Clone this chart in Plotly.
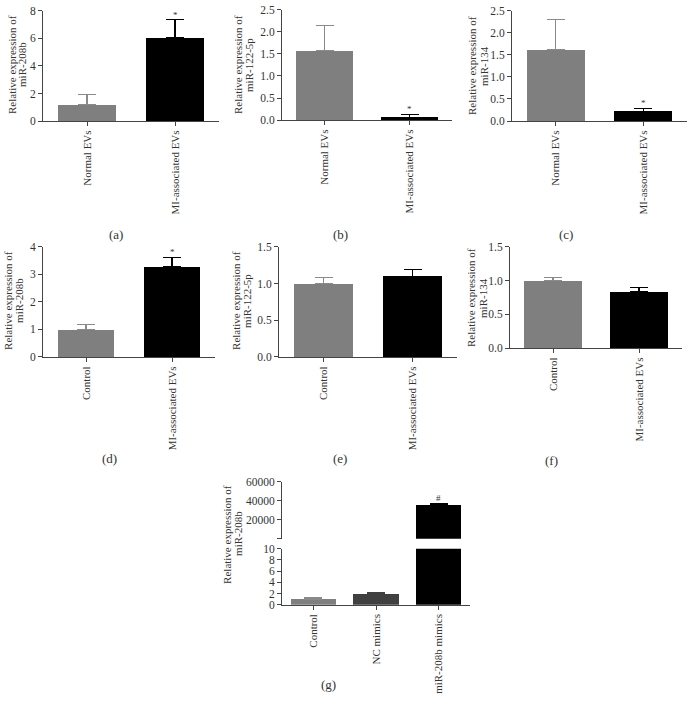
import plotly.graph_objects as go

W, H = 688, 708
FONT = "Liberation Serif"
GRAY = "#7f7f7f"
DARK = "#404040"
BLACK = "#000000"
AX = "#444444"

# data
ev_groups = ["Normal EVs", "MI-associated EVs"]
ctl_groups = ["Control", "MI-associated EVs"]
g_groups = ["Control", "NC mimics", "miR-208b mimics"]

a_mean = [1.2, 6.05]
a_err = [0.7, 1.3]
b_mean = [1.57, 0.06]
b_err = [0.58, 0.07]
c_mean = [1.62, 0.22]
c_err = [0.68, 0.07]
d_mean = [1.0, 3.28]
d_err = [0.17, 0.34]
e_mean = [1.0, 1.1]
e_err = [0.08, 0.09]
f_mean = [1.0, 0.83]
f_err = [0.04, 0.07]
g_mean = [1.0, 1.9, 36000]
g_err = [0.3, 0.3, 1500]

a_sig = ["", "*"]
b_sig = ["", "*"]
c_sig = ["", "*"]
d_sig = ["", "*"]
g_sig = ["", "", "#"]


def px_x(v):
    return v / W


def px_y(v):
    return 1 - v / H


fig = go.Figure()


def panel(n, groups, means, errs, colors, sigs, xdom, ydom, yrange, dtick=None,
          fmt=None, width=0.66, tickvals=None, ticktext=None, show_x=True, only=None):
    xa = "x" if n == 1 else f"x{n}"
    ya = "y" if n == 1 else f"y{n}"
    idx = range(len(groups)) if only is None else only
    for i in idx:
        fig.add_trace(go.Bar(
            x=[groups[i]], y=[means[i]], xaxis=xa, yaxis=ya, width=width,
            marker=dict(color=colors[i], line=dict(width=0)),
            error_y=dict(type="data", array=[errs[i]], arrayminus=[0], symmetric=False,
                         color=colors[i] if colors[i] != GRAY else "#8a8a8a",
                         thickness=1.2, width=9),
            showlegend=False, hoverinfo="skip"))
        if sigs and sigs[i]:
            fig.add_annotation(x=groups[i], y=means[i] + errs[i], xref=xa, yref=ya,
                               text=sigs[i], showarrow=False, yanchor="middle", yshift=5,
                               font=dict(family=FONT, size=9, color="#333"))
    xkey = "xaxis" if n == 1 else f"xaxis{n}"
    ykey = "yaxis" if n == 1 else f"yaxis{n}"
    fig.update_layout(**{
        xkey: dict(domain=[px_x(xdom[0]), px_x(xdom[1])], anchor=ya,
                   categoryorder="array", categoryarray=groups,
                   range=[-0.5, len(groups) - 0.5],
                   showline=show_x, linecolor=AX, linewidth=1,
                   ticks="outside" if show_x else "", ticklen=4, tickcolor=AX,
                   tickangle=-90, showticklabels=show_x, showgrid=False, zeroline=False,
                   tickfont=dict(family=FONT, size=11, color="#333")),
        ykey: dict(domain=[px_y(ydom[0]), px_y(ydom[1])], anchor=xa, range=yrange,
                   dtick=dtick, tickformat=fmt, tickvals=tickvals, ticktext=ticktext,
                   showline=True, linecolor=AX, linewidth=1, ticks="outside",
                   ticklen=4, tickcolor=AX, showgrid=False, zeroline=False,
                   tickfont=dict(family=FONT, size=11.5, color="#333")),
    })


two = [GRAY, BLACK]
panel(1, ev_groups, a_mean, a_err, two, a_sig, (43, 219), (117, 5), [0, 8], dtick=2, width=0.65)
panel(2, ev_groups, b_mean, b_err, two, b_sig, (282, 452), (116, 4), [0, 2.5], dtick=0.5, fmt=".1f", width=0.67)
panel(3, ev_groups, c_mean, c_err, two, c_sig, (512, 687), (117, 5), [0, 2.5], dtick=0.5, fmt=".1f", width=0.66)
panel(4, ctl_groups, d_mean, d_err, two, d_sig, (43, 215), (357, 245), [0, 4], dtick=1, width=0.66)
panel(5, ctl_groups, e_mean, e_err, two, None, (279, 457), (357, 245), [0, 1.5], dtick=0.5, fmt=".1f", width=0.66)
panel(6, ctl_groups, f_mean, f_err, two, None, (510, 682), (348, 245), [0, 1.5], dtick=0.5, fmt=".1f", width=0.67)
three = [GRAY, DARK, BLACK]
panel(7, g_groups, g_mean, g_err, three, None, (282, 470), (609, 552), [0, 10], dtick=2, width=0.72)
panel(8, g_groups, g_mean, g_err, three, g_sig, (282, 470), (542, 484), [0, 60000],
      tickvals=[0, 20000, 40000, 60000], ticktext=["", "20000", "40000", "60000"],
      width=0.72, show_x=False, only=[2])

# y-axis titles, one annotation per line: (gene, x line1, x line2, y centre)
titles = [
    ("miR-208b", 12, 22, 60), ("miR-122-5p", 238, 249, 60), ("miR-134", 472, 484, 61),
    ("miR-208b", 8, 19, 300), ("miR-122-5p", 236, 247, 300), ("miR-134", 471, 483, 297),
    ("miR-208b", 227, 238, 537),
]
for name, x1, x2, cy in titles:
    for txt, cx in (("Relative expression of", x1), (name, x2)):
        fig.add_annotation(x=px_x(cx), y=px_y(cy), xref="paper", yref="paper",
                           text=txt, textangle=-90, showarrow=False,
                           xanchor="center", yanchor="middle",
                           font=dict(family=FONT, size=11, color="#333"))

# panel captions
captions = [("(a)", 107, 223), ("(b)", 340, 223), ("(c)", 575, 223),
            ("(d)", 100, 460), ("(e)", 340, 460), ("(f)", 560, 462), ("(g)", 328, 700)]
for txt, cx, cy in captions:
    fig.add_annotation(x=px_x(cx), y=px_y(cy), xref="paper", yref="paper", text=txt,
                       showarrow=False, font=dict(family=FONT, size=13, color="#333"))

fig.update_layout(width=W, height=H, margin=dict(l=0, r=0, t=0, b=0),
                  plot_bgcolor="white", paper_bgcolor="white", bargap=0)
fig.write_html("out.html", config={"displayModeBar": False},
               post_script="document.body.style.margin = '0';")
